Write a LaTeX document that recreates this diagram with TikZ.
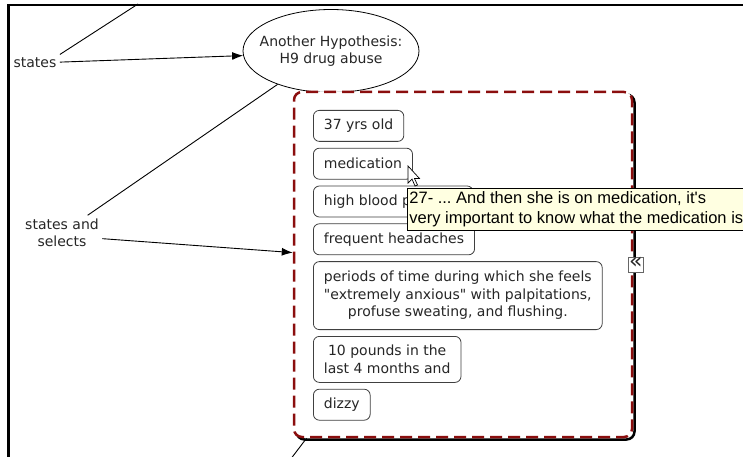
\documentclass[tikz,border=0pt]{standalone}
\usepackage{fontspec}
\setmainfont{DejaVu Sans}
\newfontfamily\tipfont{Liberation Sans}
\usetikzlibrary{shapes, arrows.meta, positioning, shadows}
\definecolor{grpred}{RGB}{139,14,14}
\definecolor{tipbg}{RGB}{255,255,225}
\frenchspacing

\begin{document}
\begin{tikzpicture}[x=1pt, y=-1pt, >={Latex[length=11pt,width=8pt]},
  every node/.style={font=\fontsize{14}{17.5}\selectfont, text=black!85},
  concept/.style={draw=black!75, rounded corners=6pt, align=center,
    inner xsep=10.5pt, inner ysep=2pt, minimum height=31pt, line width=0.8pt},
  group/.style={draw=grpred, fill=white, line width=2.5pt,
    dash pattern=on 12pt off 6pt, rounded corners=8pt,
    general shadow={shadow xshift=2.5pt, shadow yshift=-2.5pt,
      draw=black, fill=white, line width=2.5pt, solid}},
  tip/.style={draw=black, fill=tipbg, line width=0.8pt, align=left,
    inner xsep=2pt, inner ysep=3pt, minimum height=42pt, text=black,
    font=\tipfont\fontsize{16.5}{20}\selectfont},
  link/.style={line width=0.9pt}]

\useasboundingbox (0,0) rectangle (743,457);

\node[draw, ellipse, line width=0.8pt, minimum width=176pt, minimum height=83pt,
  align=center, inner xsep=-15pt, inner ysep=0pt] (hyp) at (331,51)
  {Another Hypothesis:\\H9 drug abuse};

\node (st) at (35,63) {states};
\node[align=center] (sas) at (62,233) {states and\\selects};

\node[group, minimum width=338pt, minimum height=345pt] (grp) at (463,264.5) {};

\node[concept, anchor=north west] (age) at (313,110) {37 yrs old};
\node[concept, below=6pt of age.south west, anchor=north west] (med) {medication};
\node[concept, below=6pt of med.south west, anchor=north west] (bp) {high blood pressure};
\node[concept, below=6pt of bp.south west, anchor=north west] (head) {frequent headaches};
\node[concept, below=6pt of head.south west, anchor=north west, minimum height=68pt] (anx)
  {periods of time during which she feels\\\textquotedbl extremely anxious\textquotedbl{} with palpitations,\\profuse sweating, and flushing.};
\node[concept, below=6pt of anx.south west, anchor=north west, minimum height=46pt] (wt)
  {10 pounds in the\\last 4 months and};
\node[concept, below=6pt of wt.south west, anchor=north west] (dz) {dizzy};

\node[draw=black!60, fill=white, minimum size=15pt, inner sep=0pt,
  text height=8pt, text depth=0pt,
  font=\fontsize{22}{22}\selectfont] (fold) at ([xshift=2.5pt]grp.east) {«};

% mouse pointer
\draw[fill=white, line width=0.7pt, shift={(408,166)}]
  (0,0) -- (0,17) -- (4,13) -- (7,20) -- (9.5,19) -- (6.5,12.5) -- (11.5,12.5) -- cycle;

\node[tip, anchor=north west] (note) at (407,188)
  {27- ... And then she is on medication, it's\\very important to know what the medication is};

\coordinate (topend) at (138,4);
\coordinate (botend) at (290,460);

\draw[link] (st.north east) -- (topend);
\draw[link, ->] (st) -- (hyp.183);
\draw[link] (hyp.212) -- (sas);
\draw[link, ->] (sas.-8) -- (grp.176);
\draw[link] (grp.228) -- (botend);

% frame
\draw[line width=2.5pt] (8.7,457) -- (8.7,5) -- (743,5);

\end{tikzpicture}
\end{document}
